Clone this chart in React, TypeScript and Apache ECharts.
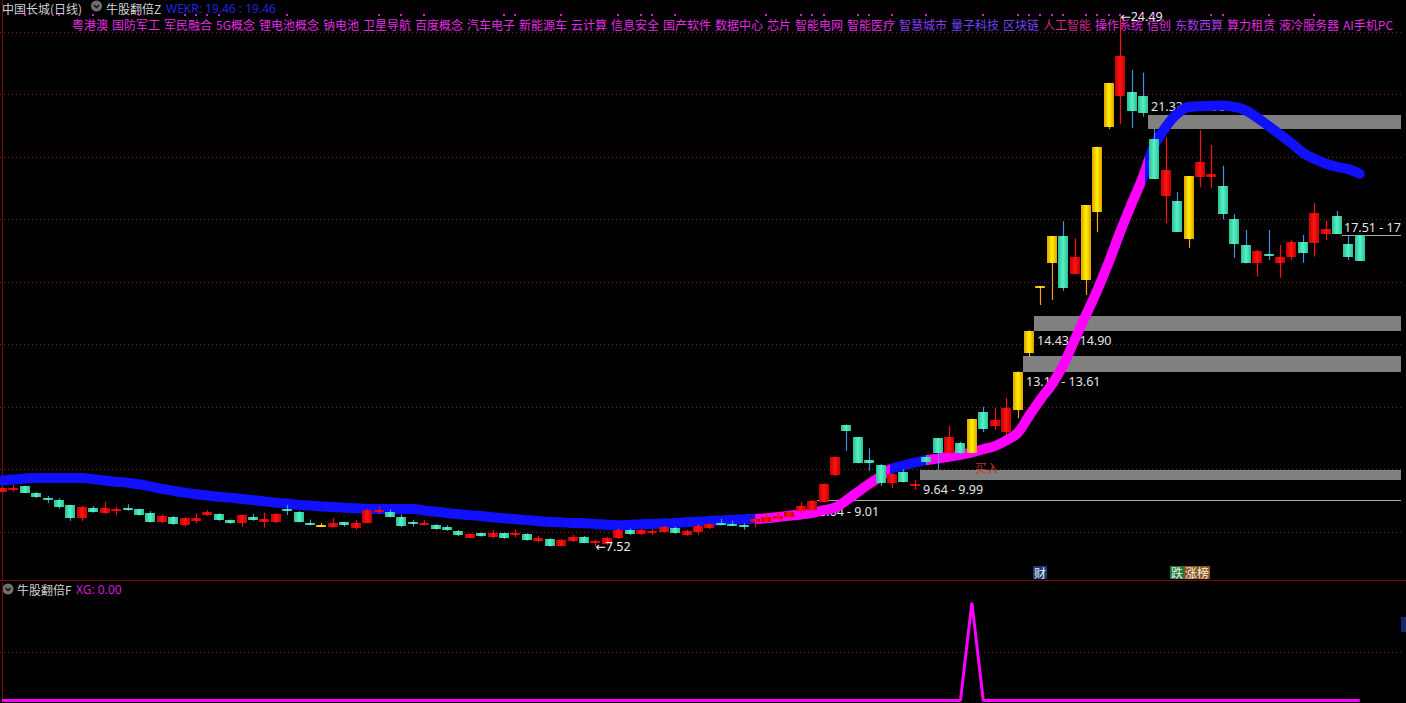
import React, { useEffect, useRef } from 'react';
import * as echarts from 'echarts';

// ---------------- data ----------------
const candleOpen = [
  9.28, 9.34, 9.45, 9.25, 9.09, 9.02, 8.85, 8.45, 8.75, 8.59,
  8.68, 8.75, 8.72, 8.61, 8.32, 8.48, 8.22, 8.34, 8.53, 8.57,
  8.37, 8.27, 8.48, 8.32, 8.31, 8.74, 8.62, 8.28, 8.16, 8.16,
  8.30, 8.12, 8.28, 8.64, 8.64, 8.48, 8.32, 8.24, 8.22, 8.16,
  8.03, 7.81, 7.95, 7.82, 7.95, 7.90, 7.93, 7.71, 7.76, 7.55,
  7.70, 7.82, 7.63, 7.61, 7.81, 8.06, 7.92, 7.95, 8.00, 8.11,
  7.90, 7.98, 8.11, 8.25, 8.24, 8.22, 8.31, 8.32, 8.42, 8.46,
  8.66, 8.70, 8.96, 9.82, 11.42, 11.02, 10.30, 10.14, 9.57, 9.92,
  9.46, 10.39, 10.99, 10.51, 10.83, 10.51, 11.82, 11.39, 11.19, 11.90,
  13.72, 15.84, 16.59, 17.47, 16.25, 16.06, 18.25, 20.97, 21.95, 22.09,
  21.95, 20.57, 18.76, 18.59, 17.37, 19.37, 19.37, 19.07, 18.00, 17.18,
  16.59, 16.89, 16.59, 16.81, 17.29, 17.23, 17.53, 18.11, 17.21, 17.50,
];
const candleClose = [
  9.39, 9.38, 9.25, 9.10, 9.03, 8.80, 8.45, 8.80, 8.64, 8.75,
  8.72, 8.69, 8.53, 8.32, 8.50, 8.25, 8.43, 8.45, 8.64, 8.37,
  8.27, 8.53, 8.37, 8.40, 8.57, 8.67, 8.32, 8.21, 8.19, 8.28,
  8.20, 8.28, 8.69, 8.69, 8.48, 8.19, 8.25, 8.28, 8.09, 8.06,
  7.88, 7.93, 7.87, 7.97, 7.79, 7.95, 7.74, 7.79, 7.55, 7.74,
  7.84, 7.65, 7.68, 7.81, 8.06, 7.92, 8.06, 8.02, 8.14, 7.95,
  8.02, 8.18, 8.25, 8.22, 8.21, 8.14, 8.40, 8.46, 8.50, 8.64,
  8.82, 8.98, 9.53, 10.38, 11.23, 10.21, 10.19, 9.57, 9.85, 9.60,
  9.50, 10.23, 10.51, 11.04, 10.51, 11.61, 11.29, 11.58, 11.96, 13.12,
  14.43, 15.84, 17.47, 15.81, 16.79, 18.46, 20.33, 22.36, 23.23, 21.48,
  21.42, 19.29, 19.58, 17.61, 19.39, 19.85, 19.45, 18.16, 17.20, 16.59,
  17.00, 16.83, 16.81, 17.29, 16.93, 18.21, 17.68, 17.53, 16.81, 16.68,
];
const candleLow = [
  9.26, 9.28, 9.23, 9.08, 8.91, 8.74, 8.35, 8.35, 8.61, 8.57,
  8.53, 8.67, 8.52, 8.30, 8.28, 8.22, 8.16, 8.27, 8.51, 8.35,
  8.25, 8.16, 8.35, 8.13, 8.28, 8.53, 8.30, 8.20, 8.16, 8.14,
  8.16, 8.06, 8.27, 8.57, 8.46, 8.16, 8.16, 8.20, 8.06, 8.03,
  7.86, 7.79, 7.84, 7.79, 7.77, 7.82, 7.71, 7.66, 7.53, 7.54,
  7.67, 7.63, 7.52, 7.58, 7.77, 7.90, 7.90, 7.90, 7.98, 7.92,
  7.87, 7.90, 8.09, 8.20, 8.19, 8.06, 8.14, 8.29, 8.38, 8.43,
  8.59, 8.64, 8.93, 9.78, 10.59, 10.19, 9.95, 9.46, 9.39, 9.58,
  9.34, 10.14, 9.94, 10.50, 10.46, 10.50, 11.19, 11.26, 11.06, 11.64,
  13.59, 15.26, 15.42, 15.71, 16.25, 15.58, 17.59, 20.89, 21.05, 20.92,
  21.29, 19.29, 17.88, 17.60, 17.09, 19.03, 19.00, 18.00, 16.77, 16.59,
  16.17, 16.70, 16.13, 16.70, 16.61, 16.81, 17.34, 17.53, 16.70, 16.68,
];
const candleHigh = [
  9.45, 9.50, 9.47, 9.27, 9.15, 9.07, 8.86, 8.82, 8.82, 8.96,
  8.80, 8.88, 8.74, 8.66, 8.56, 8.50, 8.46, 8.59, 8.69, 8.59,
  8.39, 8.54, 8.57, 8.61, 8.59, 8.86, 8.66, 8.39, 8.28, 8.43,
  8.32, 8.37, 8.72, 8.80, 8.72, 8.55, 8.37, 8.37, 8.24, 8.21,
  8.06, 7.95, 7.97, 8.06, 7.97, 8.08, 7.95, 7.87, 7.79, 7.76,
  7.90, 7.87, 7.74, 7.84, 8.11, 8.11, 8.08, 8.08, 8.18, 8.16,
  8.06, 8.25, 8.27, 8.41, 8.35, 8.27, 8.50, 8.57, 8.64, 8.67,
  8.95, 9.01, 9.55, 10.40, 11.43, 11.04, 10.67, 10.17, 9.87, 10.00,
  9.66, 10.46, 11.00, 11.38, 10.88, 11.62, 12.00, 11.96, 12.28, 13.13,
  14.44, 15.84, 17.47, 17.95, 17.39, 18.46, 20.33, 22.36, 24.49, 22.78,
  22.70, 20.92, 20.62, 18.87, 19.39, 20.86, 20.38, 19.72, 18.17, 17.66,
  17.02, 17.66, 17.18, 17.34, 17.50, 18.52, 17.96, 18.27, 17.50, 17.50,
];
// bars painted yellow by the indicator
const yellowBars = [28, 85, 89, 90, 91, 92, 95, 96, 97, 104];

// WEKR trend line
const trendLine = [
  9.64, 9.67, 9.70, 9.72, 9.72, 9.72, 9.72, 9.72, 9.68, 9.64,
  9.60, 9.57, 9.52, 9.45, 9.37, 9.31, 9.25, 9.20, 9.16, 9.12,
  9.09, 9.05, 9.01, 8.97, 8.93, 8.90, 8.86, 8.84, 8.81, 8.79,
  8.77, 8.75, 8.73, 8.73, 8.73, 8.73, 8.73, 8.68, 8.64, 8.60,
  8.56, 8.53, 8.50, 8.46, 8.43, 8.40, 8.37, 8.34, 8.31, 8.30,
  8.28, 8.27, 8.25, 8.22, 8.21, 8.22, 8.24, 8.25, 8.26, 8.28,
  8.30, 8.32, 8.34, 8.36, 8.38, 8.40, 8.41, 8.43, 8.47, 8.51,
  8.55, 8.60, 8.69, 8.77, 9.00, 9.27, 9.53, 9.76, 10.02, 10.12,
  10.21, 10.29, 10.34, 10.40, 10.46, 10.54, 10.64, 10.74, 10.92, 11.16,
  11.70, 12.23, 12.71, 13.32, 14.14, 14.94, 15.74, 16.63, 17.60, 18.50,
  19.36, 20.38, 20.96, 21.38, 21.60, 21.62, 21.64, 21.65, 21.60, 21.49,
  21.26, 20.99, 20.72, 20.44, 20.14, 19.94, 19.79, 19.68, 19.61, 19.46,
];
// bar ranges where the trend line is painted magenta (rising phase)
const magentaRanges = [[66, 77.8], [81, 100.2]];

const priceGridLevels = [8, 10, 12, 14, 16, 18, 20, 22, 24];
const lowerGridLevels = [0.5];

// grey zones
const zoneStartBar = [100, 90, 89, 80];
const zoneLow = [20.9, 14.43, 13.12, 9.64];
const zoneHigh = [21.33, 14.9, 13.61, 9.99];
const zoneLabels = ['21.33 - 20.90', '14.43 - 14.90', '13.12 - 13.61', '9.64 - 9.99'];
const zoneLabelAbove = [true, false, false, false];

// thin level lines
const levelStartBar = [71, 117];
const levelPrice = [9.01, 17.51];
const levelLabels = ['8.64 - 9.01', '17.51 - 17'];
const levelLabelAbove = [false, true];

// text marks on the price panel
const markBars = [52, 98, 85];
const markPrices = [7.52, 24.49, 10.07];
const markTexts = ['←7.52', '←24.49', '买入'];

// small news dots above the tag row
const newsBars = [2, 5, 8, 12, 16, 17, 18, 19, 25, 33, 35, 37, 44, 45, 49, 54, 56, 57, 59, 67, 70, 71, 72, 75, 76, 78, 81, 86, 89, 90, 91, 92, 93, 95, 96, 97, 98, 100, 101, 106, 107, 111, 115];

// event boxes at the bottom of the price panel
const eventBars = [91, 103];
const eventParts = [['财'], ['跌', '涨榜']];

// XG signal bars
const xgSignalBars = [85];

const conceptTags = ['粤港澳', '国防军工', '军民融合', '5G概念', '锂电池概念', '钠电池', '卫星导航', '百度概念', '汽车电子', '新能源车', '云计算', '信息安全', '国产软件', '数据中心', '芯片', '智能电网', '智能医疗', '智慧城市', '量子科技', '区块链', '人工智能', '操作系统', '信创', '东数西算', '算力租赁', '液冷服务器', 'AI手机PC'];
// tags shown in a blended blue/magenta tone
const conceptTagTint: Record<string, string> = {
  '智慧城市': '#8a3cf2',
  '量子科技': '#7040f4',
  '区块链': '#7a40f0',
  '人工智能': '#d02a8a',
  '东数西算': '#a83ee8',
};

// ---------------- styling / layout ----------------
const X_MIN = -0.1753;
const X_MAX = 122.61;
const Y_MIN = 6.453;
const Y_MAX = 25.025;
const BLUE = '#1010ff';
const MAGENTA = '#ff00ff';
const GRID_RED = '#7a1c1c';
const BORDER_RED = '#7d0b0b';
const CJK = '"Noto Sans CJK SC", "Noto Sans", sans-serif';
const NUM = '"Noto Sans", "DejaVu Sans", sans-serif';

const grad = (a: string, b: string) =>
  new echarts.graphic.LinearGradient(0, 0, 1, 0, [
    { offset: 0, color: a },
    { offset: 0.5, color: b },
    { offset: 1, color: a },
  ]);

function txt(text: string, x: number, y: number, fill: string, font: string, align = 'left') {
  return {
    type: 'text',
    x,
    y,
    style: {
      text,
      fill,
      font,
      textAlign: align,
      textVerticalAlign: 'middle',
      align,
      verticalAlign: 'middle',
    },
  };
}

function buildOption() {
  const N = candleOpen.length;
  const kinds = candleOpen.map((o, i) => (yellowBars.includes(i) ? 2 : candleClose[i] >= o ? 0 : 1));
  const candleData = candleOpen.map((o, i) => [i, o, candleClose[i], candleLow[i], candleHigh[i], kinds[i]]);
  const trendData = trendLine.map((v, i) => [i, v]);
  const xgData = candleOpen.map((_, i) => [i, xgSignalBars.includes(i) ? 1 : 0]);

  const pieces: any[] = [];
  let prev: number | null = null;
  magentaRanges.forEach(([a, b]) => {
    pieces.push(prev === null ? { lt: a, color: BLUE } : { gte: prev, lt: a, color: BLUE });
    pieces.push({ gte: a, lt: b, color: MAGENTA });
    prev = b;
  });
  pieces.push({ gte: prev, color: BLUE });

  const fills = [grad('#c40000', '#ff1414'), grad('#2cbf96', '#55f2c6'), grad('#e0a000', '#fff200')];
  const wicks = ['#ff1010', '#4a8ed8', '#ff9a1a'];

  // header graphics
  const lastTrend = trendLine[N - 1].toFixed(2);
  const lastXg = xgData[N - 1][1].toFixed(2);
  const graphics: any[] = [
    txt('中国长城(日线)', 2, 8, '#d2d2d2', `12px ${CJK}`),
    { type: 'circle', shape: { cx: 96.5, cy: 6, r: 5.5 }, style: { fill: '#6e6e6e' } },
    { type: 'polyline', shape: { points: [[94, 5], [96.5, 7.5], [99, 5]] }, style: { stroke: '#111', lineWidth: 1.5, fill: 'none' } },
    txt('牛股翻倍Z', 106, 8, '#d2d2d2', `12px ${CJK}`),
    txt(`WEKR: ${lastTrend} : ${lastTrend}`, 166, 8, '#2424e0', `12px ${NUM}`),
    { type: 'circle', shape: { cx: 8, cy: 589, r: 5.5 }, style: { fill: '#6e6e6e' } },
    { type: 'polyline', shape: { points: [[5.5, 588], [8, 590.5], [10.5, 588]] }, style: { stroke: '#111', lineWidth: 1.5, fill: 'none' } },
    txt('牛股翻倍F', 17, 589, '#d2d2d2', `12px ${CJK}`),
    txt(`XG: ${lastXg}`, 76, 589, '#d61ed6', `12px ${NUM}`),
    { type: 'line', shape: { x1: 0, y1: 580.5, x2: 1406, y2: 580.5 }, style: { stroke: BORDER_RED, lineWidth: 1 } },
    { type: 'rect', shape: { x: 1401, y: 617, width: 5, height: 15 }, style: { fill: '#12286a' } },
  ];
  let tx = 72;
  conceptTags.forEach((t) => {
    graphics.push(txt(t, tx, 24.5, conceptTagTint[t] || '#e22ee2', `12px ${CJK}`));
    let w = 0;
    for (const ch of t) w += ch.charCodeAt(0) > 0x2e80 ? 12 : 7.5;
    tx += w + 4;
  });

  return {
    backgroundColor: '#000',
    animation: false,
    graphic: { elements: graphics },
    grid: [
      { left: 0, top: 0, width: 1401, height: 580 },
      { left: 0, top: 583, width: 1401, height: 117.6 },
    ],
    xAxis: [
      { type: 'value', gridIndex: 0, min: X_MIN, max: X_MAX, show: false },
      { type: 'value', gridIndex: 1, min: X_MIN, max: X_MAX, show: false },
    ],
    yAxis: [
      {
        type: 'value', gridIndex: 0, min: Y_MIN, max: Y_MAX, position: 'right',
        axisLine: { show: true, lineStyle: { color: BORDER_RED } },
        axisTick: { show: false }, axisLabel: { show: false }, splitLine: { show: false },
      },
      {
        type: 'value', gridIndex: 1, min: 0, max: 1.2, position: 'right',
        axisLine: { show: true, lineStyle: { color: BORDER_RED } },
        axisTick: { show: false }, axisLabel: { show: false }, splitLine: { show: false },
      },
    ],
    visualMap: [
      { type: 'piecewise', show: false, dimension: 0, seriesIndex: 3, pieces },
    ],
    series: [
      // 0 dotted price grid
      {
        type: 'custom', xAxisIndex: 0, yAxisIndex: 0, z: 1, silent: true,
        data: priceGridLevels.map((v) => [0, v]),
        encode: { x: 0, y: 1 },
        renderItem: (params: any, api: any) => {
          const cs = params.coordSys;
          const y = Math.round(api.coord([0, api.value(1)])[1]) + 0.5;
          return { type: 'line', shape: { x1: cs.x, y1: y, x2: cs.x + cs.width, y2: y }, style: { stroke: GRID_RED, lineWidth: 1, lineDash: [1, 3] } };
        },
      },
      // 1 grey zones
      {
        type: 'custom', xAxisIndex: 0, yAxisIndex: 0, z: 2, silent: true,
        data: zoneStartBar.map((s, k) => [s, zoneLow[k], zoneHigh[k]]),
        encode: { x: 0, y: [1, 2] },
        renderItem: (params: any, api: any) => {
          const k = params.dataIndex;
          const cs = params.coordSys;
          const i = api.value(0);
          const pHi = api.coord([i, api.value(2)]);
          const pLo = api.coord([i, api.value(1)]);
          const left = Math.round(pHi[0] + 5);
          const top = Math.round(pHi[1]);
          const bottom = Math.round(pLo[1]);
          const right = cs.x + cs.width;
          const ly = zoneLabelAbove[k] ? top - 9 : bottom + 9.5;
          return {
            type: 'group',
            children: [
              { type: 'rect', shape: { x: left, y: top, width: right - left, height: bottom - top }, style: { fill: '#808080' } },
              txt(zoneLabels[k], left + 3, ly, '#e4e4e4', `12.5px ${NUM}`),
            ],
          };
        },
      },
      // 2 thin level lines
      {
        type: 'custom', xAxisIndex: 0, yAxisIndex: 0, z: 2, silent: true,
        data: levelStartBar.map((s, k) => [s, levelPrice[k]]),
        encode: { x: 0, y: 1 },
        renderItem: (params: any, api: any) => {
          const k = params.dataIndex;
          const cs = params.coordSys;
          const p = api.coord([api.value(0), api.value(1)]);
          const left = Math.round(p[0] + 5);
          const y = Math.round(p[1]) + 0.5;
          const ly = levelLabelAbove[k] ? y - 8 : y + 11;
          return {
            type: 'group',
            children: [
              { type: 'line', shape: { x1: left, y1: y, x2: cs.x + cs.width, y2: y }, style: { stroke: '#a8a8a8', lineWidth: 1 } },
              txt(levelLabels[k], left + 2, ly, '#e4e4e4', `12.5px ${NUM}`),
            ],
          };
        },
      },
      // 3 trend line
      {
        type: 'line', xAxisIndex: 0, yAxisIndex: 0, z: 3, silent: true,
        data: trendData, symbol: 'none', smooth: 0.4, clip: false,
        lineStyle: { width: 10, cap: 'round', join: 'round' },
      },
      // 4 candles
      {
        type: 'custom', xAxisIndex: 0, yAxisIndex: 0, z: 5, silent: true,
        data: candleData,
        encode: { x: 0, y: [1, 2, 3, 4] },
        renderItem: (params: any, api: any) => {
          const i = api.value(0);
          const kind = api.value(5);
          const pO = api.coord([i, api.value(1)]);
          const pC = api.coord([i, api.value(2)]);
          const pL = api.coord([i, api.value(3)]);
          const pH = api.coord([i, api.value(4)]);
          const bx = Math.round(pO[0] - 5);
          let top = Math.round(Math.min(pO[1], pC[1]));
          let bot = Math.round(Math.max(pO[1], pC[1]));
          if (bot - top < 2) {
            const m = Math.round((pO[1] + pC[1]) / 2);
            top = m - 1;
            bot = m + 1;
          }
          const wx = bx + 5.5;
          return {
            type: 'group',
            children: [
              { type: 'line', shape: { x1: wx, y1: pH[1], x2: wx, y2: pL[1] }, style: { stroke: wicks[kind], lineWidth: 1.2 } },
              { type: 'rect', shape: { x: bx, y: top, width: 10, height: bot - top }, style: { fill: fills[kind] } },
            ],
          };
        },
      },
      // 5 text marks
      {
        type: 'custom', xAxisIndex: 0, yAxisIndex: 0, z: 6, silent: true,
        data: markBars.map((b, k) => [b, markPrices[k]]),
        encode: { x: 0, y: 1 },
        renderItem: (params: any, api: any) => {
          const k = params.dataIndex;
          const p = api.coord([api.value(0), api.value(1)]);
          const isBuy = markTexts[k] === '买入';
          return txt(markTexts[k], p[0] + (isBuy ? 3 : 0), p[1], isBuy ? '#c83030' : '#eeeeee', isBuy ? `12px ${CJK}` : `12.5px ${NUM}`);
        },
      },
      // 6 news dots
      {
        type: 'custom', xAxisIndex: 0, yAxisIndex: 0, z: 6, silent: true,
        data: newsBars.map((b) => [b, Y_MAX]),
        encode: { x: 0, y: 1 },
        renderItem: (params: any, api: any) => {
          const cs = params.coordSys;
          const x = Math.round(api.coord([api.value(0), Y_MAX])[0]);
          return { type: 'rect', shape: { x: x - 1, y: cs.y + 14, width: 2, height: 2 }, style: { fill: '#d21ed2' } };
        },
      },
      // 7 event boxes
      {
        type: 'custom', xAxisIndex: 0, yAxisIndex: 0, z: 6, silent: true,
        data: eventBars.map((b) => [b, Y_MIN]),
        encode: { x: 0, y: 1 },
        renderItem: (params: any, api: any) => {
          const k = params.dataIndex;
          const cs = params.coordSys;
          const x0 = Math.round(api.coord([api.value(0), Y_MIN])[0] - 7);
          const bgs = k === 0 ? ['#1d3b70'] : ['#1c7a34', '#8c5418'];
          const children: any[] = [];
          let x = x0;
          eventParts[k].forEach((part, j) => {
            const w = part.length * 12 + 2;
            children.push({ type: 'rect', shape: { x, y: cs.y + cs.height - 14, width: w, height: 13 }, style: { fill: bgs[j] } });
            children.push(txt(part, x + 1, cs.y + cs.height - 7.5, '#f0f0f0', `12px ${CJK}`));
            x += w;
          });
          return { type: 'group', children };
        },
      },
      // 8 lower grid
      {
        type: 'custom', xAxisIndex: 1, yAxisIndex: 1, z: 1, silent: true,
        data: lowerGridLevels.map((v) => [0, v]),
        encode: { x: 0, y: 1 },
        renderItem: (params: any, api: any) => {
          const cs = params.coordSys;
          const y = Math.round(api.coord([0, api.value(1)])[1]) + 0.5;
          return { type: 'line', shape: { x1: cs.x, y1: y, x2: cs.x + cs.width, y2: y }, style: { stroke: GRID_RED, lineWidth: 1, lineDash: [1, 3] } };
        },
      },
      // 9 XG signal
      {
        type: 'line', xAxisIndex: 1, yAxisIndex: 1, z: 3, silent: true,
        data: xgData, symbol: 'none', clip: false,
        lineStyle: { color: MAGENTA, width: 3 },
      },
    ],
  };
}

export default function App() {
  const ref = useRef<HTMLDivElement>(null);
  useEffect(() => {
    if (!ref.current) return;
    const chart = echarts.init(ref.current, null, { renderer: 'svg' });
    chart.setOption(buildOption() as any);
    return () => chart.dispose();
  }, []);
  return (
    <div
      ref={ref}
      style={{ position: 'absolute', left: 0, top: 0, width: 1406, height: 703, background: '#000' }}
    />
  );
}
